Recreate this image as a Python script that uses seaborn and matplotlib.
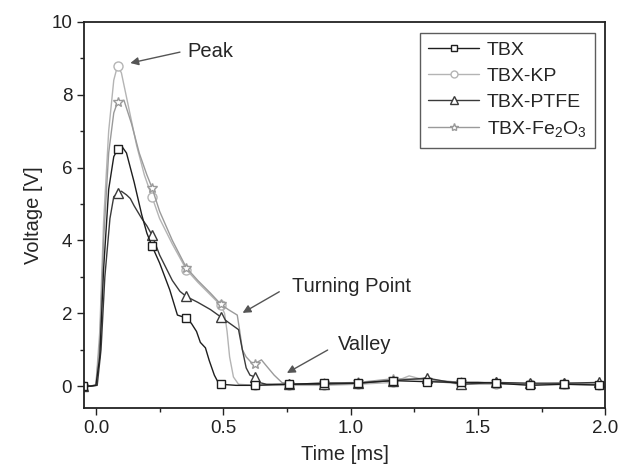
import numpy as np
import pandas as pd
import matplotlib
matplotlib.use("Agg")
import matplotlib.pyplot as plt
from matplotlib.lines import Line2D
import seaborn as sns

# marker positions (ms), shared by all four traces
mark_t = [-0.05, 0.085, 0.22, 0.355, 0.49, 0.625, 0.76, 0.895, 1.03,
          1.165, 1.30, 1.435, 1.57, 1.705, 1.84, 1.975]

# voltage at the markers
tbx_mv = [0, 6.5, 3.85, 1.87, 0.05, 0.02, 0.05, 0.08, 0.08, 0.15, 0.12, 0.1, 0.08, 0.02, 0.05, 0.03]
kp_mv = [0, 8.8, 5.2, 3.2, 2.22, 0.02, 0.02, 0.02, 0.05, 0.1, 0.15, 0.05, 0.05, 0.05, 0.05, 0.02]
ptfe_mv = [0, 5.3, 4.15, 2.46, 1.9, 0.25, 0.05, 0.05, 0.08, 0.15, 0.22, 0.05, 0.1, 0.08, 0.08, 0.1]
fe_mv = [0, 7.8, 5.45, 3.25, 2.25, 0.62, 0.05, 0.08, 0.1, 0.2, 0.18, 0.1, 0.1, 0.05, 0.08, 0.05]

# extra trace points between markers
tbx_t = [-0.02, 0.0, 0.015, 0.03, 0.05, 0.07, 0.1, 0.12, 0.15, 0.18, 0.2, 0.25, 0.29, 0.32,
         0.375, 0.395, 0.41, 0.43, 0.445, 0.465, 0.48, 0.55, 0.7, 1.1, 1.5]
tbx_v = [0, 0.02, 0.8, 3.2, 5.4, 6.3, 6.6, 6.4, 5.6, 4.7, 4.2, 3.38, 2.64, 1.95,
         1.72, 1.5, 1.2, 1.05, 0.7, 0.3, 0.1, 0.02, 0.04, 0.12, 0.1]

kp_t = [-0.02, 0.0, 0.015, 0.03, 0.05, 0.07, 0.1, 0.13, 0.16, 0.19, 0.25, 0.3, 0.4, 0.45,
        0.505, 0.515, 0.525, 0.54, 0.56, 1.23, 1.37]
kp_v = [0, 0.05, 1.5, 4.5, 7.0, 8.4, 8.6, 7.6, 6.6, 5.8, 4.6, 3.9, 2.85, 2.5,
        2.0, 1.5, 0.8, 0.25, 0.05, 0.28, 0.1]

ptfe_t = [-0.02, 0.005, 0.02, 0.035, 0.055, 0.07, 0.1, 0.12, 0.135, 0.15, 0.18, 0.2, 0.25,
          0.3, 0.33, 0.4, 0.45, 0.52, 0.56, 0.575, 0.59, 0.605, 0.64, 0.67]
ptfe_v = [0, 0.02, 1.0, 3.0, 4.6, 5.2, 5.35, 5.25, 5.15, 4.95, 4.6, 4.4, 3.6,
          2.9, 2.6, 2.3, 2.1, 1.75, 1.55, 1.0, 0.5, 0.3, 0.1, 0.05]

fe_t = [-0.02, 0.0, 0.015, 0.03, 0.05, 0.07, 0.11, 0.14, 0.17, 0.2, 0.25, 0.3, 0.4, 0.45,
        0.52, 0.555, 0.565, 0.575, 0.59, 0.61, 0.65, 0.67, 0.7, 0.73]
fe_v = [0, 0.03, 1.2, 4.0, 6.4, 7.5, 7.85, 7.2, 6.4, 5.8, 4.8, 4.0, 2.9, 2.55,
        2.1, 1.95, 1.5, 1.0, 0.8, 0.65, 0.72, 0.55, 0.3, 0.1]

names = ["TBX", "TBX-KP", "TBX-PTFE", "TBX-Fe$_2$O$_3$"]
colors = ["#1e1e1e", "#b4b4b4", "#3a3a3a", "#9a9a9a"]
markers = ["s", "o", "^", "*"]
msizes = [6, 6.5, 7, 7.5]

sns.set_style("ticks")
plt.rcParams["font.family"] = ["Liberation Sans", "DejaVu Sans"]
plt.rcParams["mathtext.fontset"] = "custom"
plt.rcParams["mathtext.rm"] = "Liberation Sans"
plt.rcParams["mathtext.it"] = "Liberation Sans:italic"

fig = plt.figure(figsize=(6.22, 4.76), dpi=100)
ax = fig.add_axes([0.135, 0.143, 0.838, 0.811])

series = [(tbx_t, tbx_v, tbx_mv), (kp_t, kp_v, kp_mv),
          (ptfe_t, ptfe_v, ptfe_mv), (fe_t, fe_v, fe_mv)]

handles = []
# draw light curves first so the dark ones sit on top
for i in [1, 3, 2, 0]:
    t, v, mv = series[i]
    df = pd.DataFrame({"t": list(t) + mark_t, "v": list(v) + mv}).sort_values("t")
    sns.lineplot(data=df, x="t", y="v", ax=ax, color=colors[i], lw=1.0,
                 sort=False, estimator=None)
    ax.plot(mark_t, mv, ls="none", marker=markers[i], ms=msizes[i],
            mfc="white", mec=colors[i], mew=1.0)

for i in range(4):
    handles.append(Line2D([], [], color=colors[i], lw=1.0, marker=markers[i],
                          ms=msizes[i] - 1.5, mfc="white", mec=colors[i], mew=1.0))

leg = ax.legend(handles, names, loc="upper right", bbox_to_anchor=(0.981, 0.972),
                borderaxespad=0, fontsize=14, handlelength=2.6, handletextpad=0.4,
                labelspacing=0.42, frameon=True, fancybox=False, borderpad=0.45)
leg.get_frame().set_edgecolor("#333333")
leg.get_frame().set_linewidth(1.0)

# annotations
acol = "#555555"
ap = dict(arrowstyle="-|>", color=acol, lw=1.0, mutation_scale=12, shrinkA=0, shrinkB=0)
ax.text(0.36, 9.2, "Peak", fontsize=14.5, va="center", ha="left")
ax.annotate("", xy=(0.135, 8.87), xytext=(0.33, 9.17), arrowprops=ap)
ax.text(0.77, 2.73, "Turning Point", fontsize=14.5, va="center", ha="left")
ax.annotate("", xy=(0.576, 2.01), xytext=(0.72, 2.59), arrowprops=ap)
ax.text(0.95, 1.13, "Valley", fontsize=14.5, va="center", ha="left")
ax.annotate("", xy=(0.75, 0.36), xytext=(0.91, 0.99), arrowprops=ap)

ax.set_xlim(-0.047, 2.0)
ax.set_ylim(-0.6, 10)
ax.set_xticks([0.0, 0.5, 1.0, 1.5, 2.0])
ax.set_xticks([0.25, 0.75, 1.25, 1.75], minor=True)
ax.set_yticks([0, 2, 4, 6, 8, 10])
ax.set_yticks([1, 3, 5, 7, 9], minor=True)
ax.set_xticklabels(["0.0", "0.5", "1.0", "1.5", "2.0"])
ax.tick_params(axis="both", which="major", direction="out", length=5, width=1.0,
               labelsize=13.5, top=False, right=False, colors="#222222")
ax.tick_params(axis="both", which="minor", direction="out", length=3, width=1.0,
               top=False, right=False, colors="#222222")
for sp in ax.spines.values():
    sp.set_visible(True)
    sp.set_linewidth(1.3)
    sp.set_color("#222222")

ax.set_xlabel("Time [ms]", fontsize=14.5, labelpad=6)
ax.set_ylabel("Voltage [V]", fontsize=14.5, labelpad=6)

fig.savefig("out.png", dpi=100)
